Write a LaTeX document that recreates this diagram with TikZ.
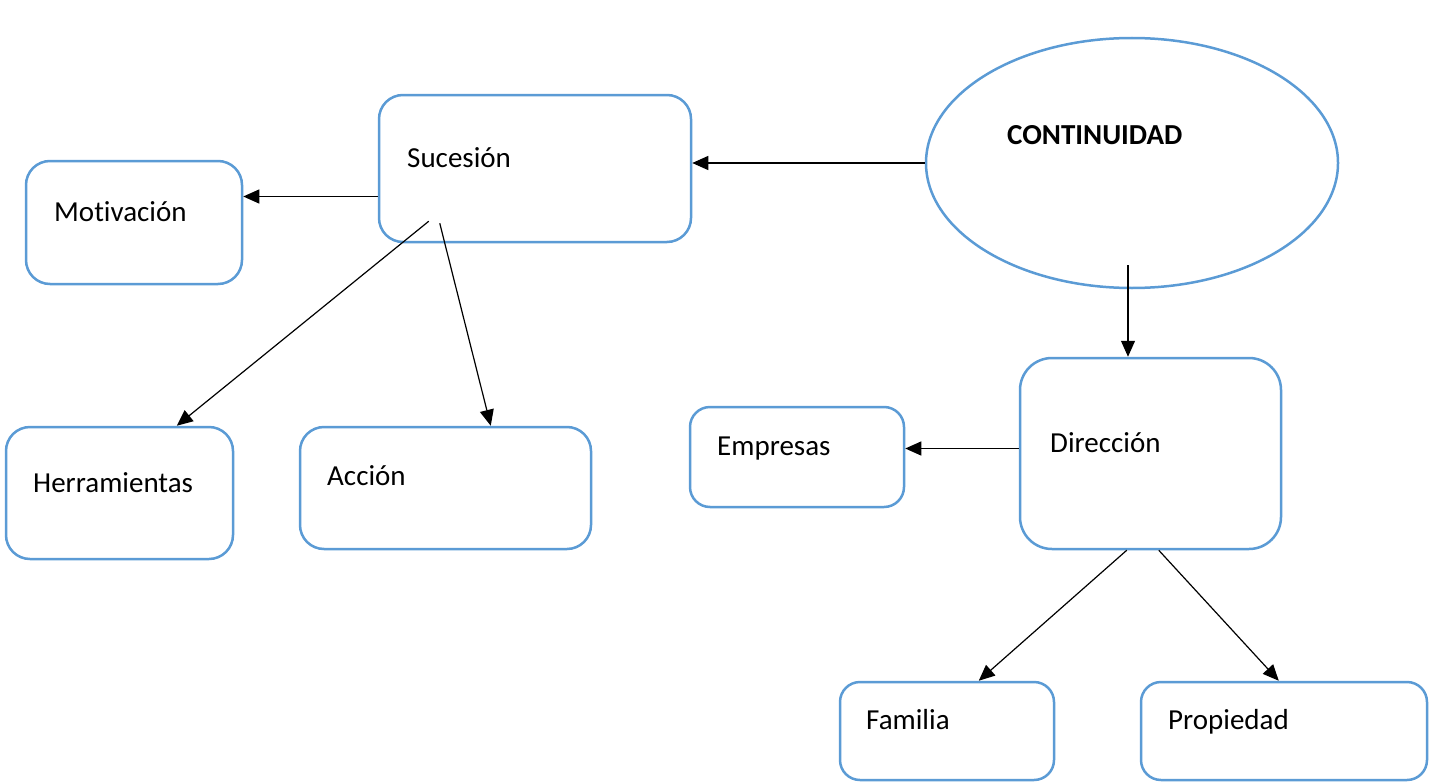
\documentclass[tikz,border=0pt]{standalone}
\usepackage{fontspec}
\setmainfont{Carlito}[Ligatures={NoCommon,NoRare,NoContextual},Contextuals={NoAlternate}]
\usetikzlibrary{arrows.meta,shapes.geometric}
\definecolor{azul}{HTML}{5B9BD5}
\tikzset{
  caja/.style={draw=azul, line width=2.5pt, rounded corners=24pt, fill=white, inner sep=0pt},
  elipse/.style={draw=azul, line width=2.5pt, ellipse, inner sep=0pt},
  txt/.style={anchor=base west, inner sep=0pt, font=\fontsize{29}{35}\selectfont},
  flecha/.style={-{Triangle[length=16pt,width=14pt]}, line width=1.2pt, black}
}
\begin{document}
\begin{tikzpicture}[x=1pt,y=-1pt]
\useasboundingbox (0,0) rectangle (1429,784);
\node[elipse, minimum width=412pt, minimum height=250pt] (cont) at (1132,163){};
\node[txt, font=\fontsize{29}{35}\selectfont\bfseries] (cont-t) at (1007,144){CONTINUIDAD};
\node[caja, minimum width=312pt, minimum height=147pt] (sucesion) at (535,168.5){};
\node[txt] (sucesion-t) at (407,167){Sucesión};
\node[caja, minimum width=216pt, minimum height=123pt] (motivacion) at (134,222.5){};
\node[txt] (motivacion-t) at (54,221){Motivación};
\node[caja, minimum width=227pt, minimum height=132pt] (herramientas) at (119.5,493){};
\node[txt] (herramientas-t) at (33,492){Herramientas};
\node[caja, minimum width=291pt, minimum height=122pt] (accion) at (445.5,488){};
\node[txt] (accion-t) at (327,485){Acción};
\node[caja, minimum width=261pt, minimum height=191pt, rounded corners=32pt] (direccion) at (1150.5,453.5){};
\node[txt] (direccion-t) at (1050,452){Dirección};
\node[caja, minimum width=214pt, minimum height=100pt, rounded corners=20pt] (empresas) at (797,457){};
\node[txt] (empresas-t) at (717,455){Empresas};
\node[caja, minimum width=214pt, minimum height=98pt, rounded corners=20pt] (familia) at (947,731){};
\node[txt] (familia-t) at (866,729){Familia};
\node[caja, minimum width=286pt, minimum height=98pt, rounded corners=20pt] (propiedad) at (1284,731){};
\node[txt] (propiedad-t) at (1168,729){Propiedad};
% conectores
\draw[flecha] (cont.west) -- (cont.west -| sucesion.east);
\draw[flecha] ([yshift=-28pt]sucesion.west) -- ([yshift=-28pt]sucesion.west -| motivacion.east);
\draw[flecha] ([xshift=51pt,yshift=22pt]sucesion.south west) -- ([xshift=172pt]herramientas.north west);
\draw[flecha] ([xshift=62pt,yshift=20pt]sucesion.south west) -- ([xshift=192pt]accion.north west);
\draw[flecha] ([xshift=-4pt,yshift=24pt]cont.south) -- ([xshift=-4pt]cont.south |- direccion.north);
\draw[flecha] ([yshift=5pt]direccion.west) -- ([yshift=5pt]direccion.west -| empresas.east);
\draw[flecha] ([xshift=108pt]direccion.south west) -- ([xshift=140pt]familia.north west);
\draw[flecha] ([xshift=140pt]direccion.south west) -- ([xshift=139pt]propiedad.north west);
\end{tikzpicture}
\end{document}
